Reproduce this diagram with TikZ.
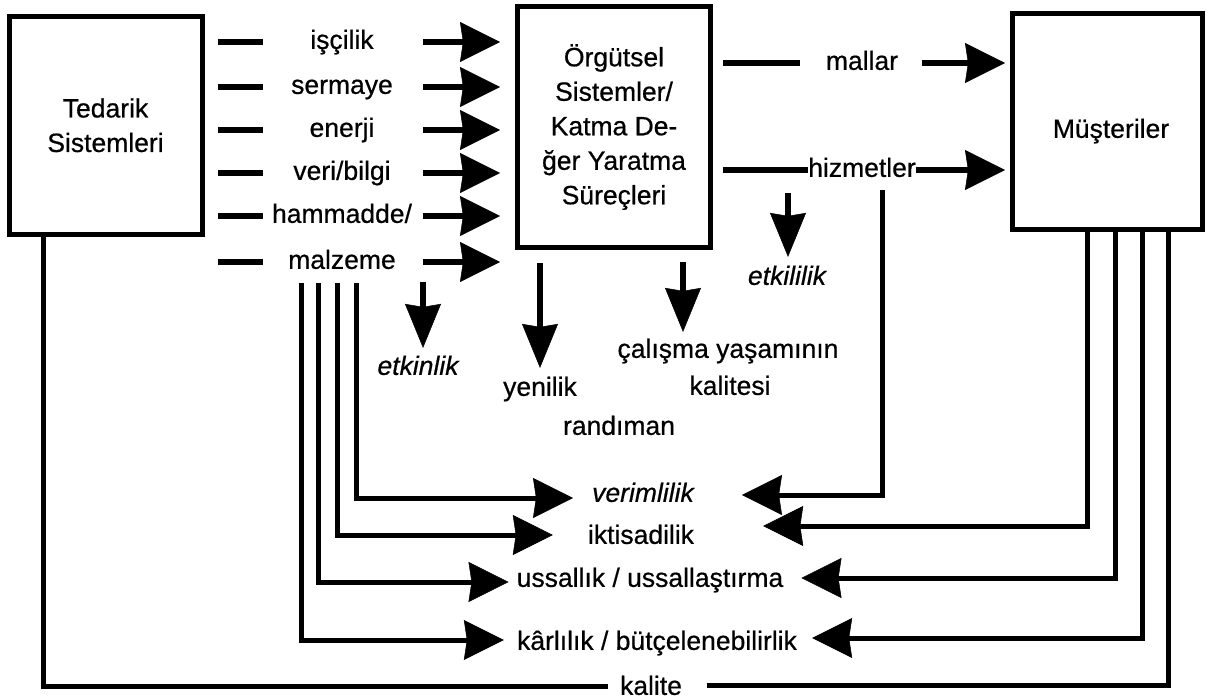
\documentclass[tikz,border=0pt]{standalone}
\usepackage{fontspec}
\setmainfont{Liberation Sans}[FakeBold=0.6]
\usetikzlibrary{arrows.meta}

\tikzset{
  box/.style={draw, line width=5pt, inner sep=0pt, align=center,
    font=\fontsize{26.5}{34.5}\selectfont},
  lbl/.style={inner sep=0pt, font=\fontsize{26.5}{32}\selectfont,
    text height=13.75pt, text depth=0pt},
  itl/.style={lbl, font=\fontsize{26.5}{32}\selectfont\itshape},
  bar/.style={line width=6pt},
  ln/.style={line width=5pt},
  arr/.style={-{Stealth[length=40pt,width=40pt,inset=3pt,line width=0.5pt]}},
  darr/.style={-{Stealth[length=44pt,width=36pt,inset=3pt,line width=0.5pt]}},
}

\begin{document}
\begin{tikzpicture}[x=1pt,y=-1pt]
\useasboundingbox (0,0) rectangle (1211,698);

% the three systems
\node[box, minimum width=193pt, minimum height=217.5pt] (T) at (105.5,125.25) {Tedarik\\Sistemleri};
\node[box, minimum width=193pt, minimum height=241pt] (O) at (614,127)
  {Örgütsel\\Sistemler/\\Katma De-\\ğer Yaratma\\Süreçleri};
\node[box, minimum width=190pt, minimum height=215.5pt] (M) at (1107.5,121.75) {};
\node[lbl] (Mt) at (1111,131) {Müşteriler};

% inputs from the supply systems
\foreach \nm/\yy/\tx in {i1/42/işçilik, i2/87/sermaye, i3/130/enerji,
    i4/173/{veri/bilgi}, i5/216/{hammadde/}, i6/262/malzeme} {
  \node[lbl] (\nm) at (342,\yy) {\tx};
  \draw[bar] (\nm -| 218,0) -- (\nm -| 263,0);
  \draw[bar, arr, shorten >=15pt] (\nm -| 423,0) -- (\nm -| O.west);
}

% outputs to the customers
\node[lbl] (mal) at (862,63) {mallar};
\node[lbl] (hiz) at (862,170) {hizmetler};
\draw[bar] (mal -| 723,0) -- (mal -| 800,0);
\draw[bar, arr, shorten >=5pt] (mal -| 922,0) -- (mal -| M.west);
\draw[bar] (hiz -| 723,0) -- (hiz.west);
\draw[bar, arr, shorten >=5pt] (hiz.east) -- (hiz -| M.west);

% performance criteria
\node[itl] (etkl) at (787,278) {etkililik};
\node[itl] (etkn) at (418,368) {etkinlik};
\node[lbl] (yen) at (540,389) {yenilik};
\node[lbl] (cal) at (728,351) {çalışma yaşamının};
\node[lbl] (kalt) at (730,388) {kalitesi};
\node[lbl] (ran) at (619,428) {randıman};

\draw[bar, darr, shorten <=16pt, shorten >=14pt] (hiz.south -| 788,0) -- (etkl.north -| 788,0);
\draw[bar, darr, shorten <=13pt, shorten >=13pt] (i6.south -| 423,0) -- (etkn.north -| 423,0);
\draw[bar, darr, shorten <=13pt, shorten >=14pt] (O.south -| 540,0) -- (yen.north);
\draw[bar, darr, shorten <=12pt, shorten >=12pt] (O.south -| 683,0) -- (cal.north -| 683,0);

\node[itl] (ver) at (643,495) {verimlilik};
\node[lbl] (ikt) at (641,537) {iktisadilik};
\node[lbl] (uss) at (650,580) {ussallık / ussallaştırma};
\node[lbl] (kar) at (657,643) {kârlılık / bütçelenebilirlik};
\node[lbl] (kal) at (651,688) {kalite};

% feeds from the input side
\draw[ln, arr, shorten <=14pt, shorten >=19pt] (i6.south -| 356,0) |- ([yshift=-3pt]ver.west);
\draw[ln, arr, shorten <=14pt, shorten >=35pt] (i6.south -| 337.5,0) |- ([yshift=2pt]ikt.west);
\draw[ln, arr, shorten <=14pt, shorten >=8pt] (i6.south -| 318.5,0) |- ([yshift=-2pt]uss.west);
\draw[ln, arr, shorten <=14pt, shorten >=13pt] (i6.south -| 301,0) |- ([yshift=3pt]kar.west);

% feeds from the output side
\draw[ln, arr, shorten <=13pt, shorten >=48pt] (hiz.south -| 882,0) |- (ver.east);
\draw[ln, arr, shorten >=69pt] (M.south -| 1087,0) |- ([yshift=11pt]ikt.east);
\draw[ln, arr, shorten >=18pt] (M.south -| 1115,0) |- ([yshift=2pt]uss.east);
\draw[ln, arr, shorten >=15pt] (M.south -| 1142,0) |- ([yshift=5pt]kar.east);

% quality loop
\draw[ln, shorten >=12pt] (T.south -| 43,0) |- ([yshift=1.5pt]kal.west);
\draw[ln, shorten <=25pt] ([yshift=2.5pt]kal.east) -| (M.south -| 1168,0);
\end{tikzpicture}
\end{document}
